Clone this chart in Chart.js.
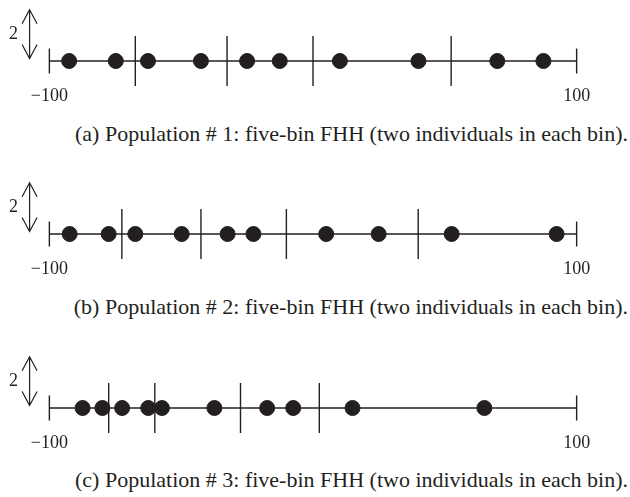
<!DOCTYPE html>
<html>
<head>
<meta charset="utf-8">
<script src="https://cdn.jsdelivr.net/npm/chart.js@4.4.1/dist/chart.umd.min.js"></script>
<style>
  body { margin: 0; background: #fff; }
  #wrap { position: relative; width: 630px; height: 497px; overflow: hidden; background: #fff; }
  .panel { position: absolute; left: 0; width: 630px; height: 106px; }
  .cap { position: absolute; right: 2px; font-family: "Liberation Serif", serif; font-size: 22px;
         line-height: 26px; color: #231f20; white-space: nowrap; }
</style>
</head>
<body>
<div id="wrap">
  <div class="panel" style="top:0px"><canvas id="popA"></canvas></div>
  <div class="cap" id="capA" style="top:121px"></div>
  <div class="panel" style="top:173px"><canvas id="popB"></canvas></div>
  <div class="cap" id="capB" style="top:294px"></div>
  <div class="panel" style="top:347px"><canvas id="popC"></canvas></div>
  <div class="cap" id="capC" style="top:467px"></div>
</div>
<script>
// individuals on the line (-100..100) and bin borders, one pair per population
var popA = [-92.5, -74.8, -62.6, -42.5, -25.0, -12.6, 10.2, 40.0, 69.9, 87.4];
var binsA = [-67.4, -32.6, 0, 52.4];
var popB = [-92.3, -77.5, -67.4, -49.8, -32.4, -22.6, 5.0, 24.9, 52.6, 92.4];
var binsB = [-72.5, -42.5, -10.1, 39.9];
var popC = [-87.4, -79.9, -72.4, -62.5, -57.3, -37.4, -17.4, -7.5, 15.0, 65.0];
var binsC = [-77.5, -60.0, -27.5, 2.4];

var captions = [
  "(a) Population # 1: five-bin FHH (two individuals in each bin).",
  "(b) Population # 2: five-bin FHH (two individuals in each bin).",
  "(c) Population # 3: five-bin FHH (two individuals in each bin)."
];

var axisEnds = [-100, 100];
var binHalf = 1;       // bin borders go from -1 to 1
var endHalf = 0.5;     // end marks go from -0.5 to 0.5
var arrowX = -107.5;
var arrowSpan = [0.1, 2.05];
var arrowLabel = "2";

var ink = "#231f20";
var serif = "'Liberation Serif', serif";

// double arrow with the "2" next to it
var scaleArrow = {
  id: "scaleArrow",
  afterDatasetsDraw: function (chart) {
    var ctx = chart.ctx;
    var x = chart.scales.x, y = chart.scales.y;
    var px = x.getPixelForValue(arrowX);
    var y0 = y.getPixelForValue(arrowSpan[0]);
    var y1 = y.getPixelForValue(arrowSpan[1]);
    ctx.save();
    ctx.strokeStyle = ink;
    ctx.lineWidth = 1.2;
    ctx.beginPath();
    ctx.moveTo(px, y0); ctx.lineTo(px, y1);
    ctx.moveTo(px - 7.5, y1 + 14); ctx.lineTo(px, y1); ctx.lineTo(px + 7.5, y1 + 14);
    ctx.moveTo(px - 7.5, y0 - 14); ctx.lineTo(px, y0); ctx.lineTo(px + 7.5, y0 - 14);
    ctx.stroke();
    ctx.fillStyle = ink;
    ctx.font = "18px " + serif;
    ctx.textAlign = "center";
    ctx.textBaseline = "middle";
    ctx.fillText(arrowLabel, px - 16, (y0 + y1) / 2);
    ctx.restore();
  }
};

function segment(xv, half, width) {
  return {
    type: "line",
    data: [{x: xv, y: -half}, {x: xv, y: half}],
    borderColor: ink,
    borderWidth: width,
    pointRadius: 0,
    clip: false
  };
}

function drawPanel(id, pop, bins) {
  var datasets = [{
    type: "scatter",
    data: pop.map(function (v) { return {x: v, y: 0}; }),
    backgroundColor: ink,
    borderColor: ink,
    pointRadius: 7.5,
    pointHoverRadius: 7.5,
    clip: false
  }];
  bins.forEach(function (b) { datasets.push(segment(b, binHalf, 1.4)); });
  axisEnds.forEach(function (e) { datasets.push(segment(e, endHalf, 1.4)); });
  datasets.push({
    type: "line",
    data: axisEnds.map(function (e) { return {x: e, y: 0}; }),
    borderColor: ink,
    borderWidth: 1.3,
    pointRadius: 0,
    clip: false
  });

  return new Chart(document.getElementById(id).getContext("2d"), {
    type: "scatter",
    data: { datasets: datasets },
    options: {
      responsive: true,
      maintainAspectRatio: false,
      animation: false,
      layout: { padding: { left: 23, right: 27, top: 6, bottom: 0 } },
      plugins: { legend: { display: false }, tooltip: { enabled: false } },
      scales: {
        x: {
          type: "linear",
          min: -110,
          max: 110,
          afterBuildTicks: function (s) { s.ticks = axisEnds.map(function (v) { return {value: v}; }); },
          afterFit: function (s) { s.height = 20; },
          grid: { display: false, drawTicks: false },
          border: { display: false },
          ticks: {
            padding: -1,
            autoSkip: false,
            maxRotation: 0,
            color: ink,
            font: { family: serif, size: 18 },
            callback: function (v) { return v < 0 ? "\u2212" + (-v) : "" + v; }
          }
        },
        y: { min: -1, max: 2.1, display: false }
      }
    },
    plugins: [scaleArrow]
  });
}

drawPanel("popA", popA, binsA);
drawPanel("popB", popB, binsB);
drawPanel("popC", popC, binsC);

document.getElementById("capA").textContent = captions[0];
document.getElementById("capB").textContent = captions[1];
document.getElementById("capC").textContent = captions[2];
</script>
</body>
</html>
